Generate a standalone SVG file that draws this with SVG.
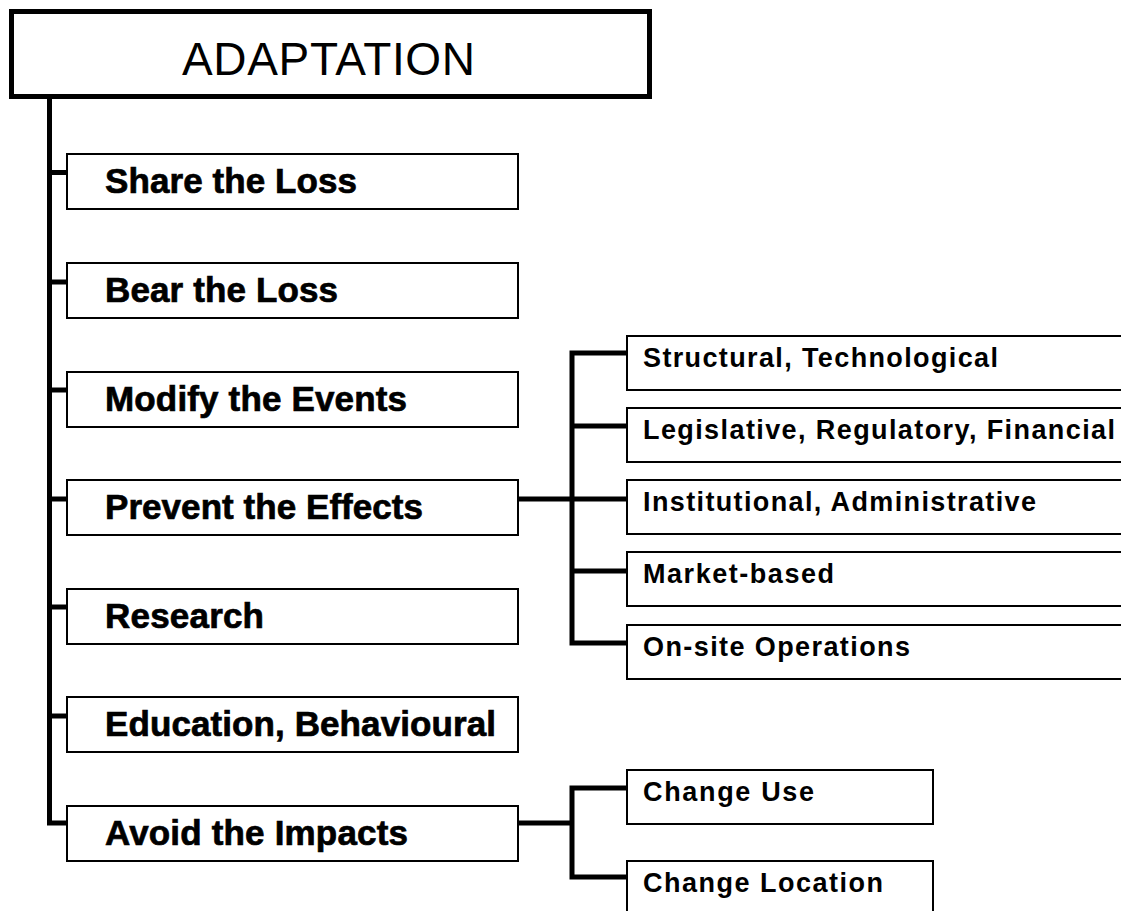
<svg xmlns="http://www.w3.org/2000/svg" width="1121" height="911" viewBox="0 0 1121 911">
<style>
.bg{fill:#fff}
.top{fill:#fff;stroke:#000;stroke-width:5}
.box{fill:#fff;stroke:#000;stroke-width:2}
.conn{fill:none;stroke:#000;stroke-width:5;stroke-linejoin:miter;stroke-linecap:butt}
.title{font-family:"Liberation Sans",Arial,sans-serif;font-size:46px;fill:#000}
.main{font-family:"Liberation Sans",Arial,sans-serif;font-size:35px;font-weight:bold;fill:#000;stroke:#000;stroke-width:0.7}
.sub{font-family:"Liberation Sans",Arial,sans-serif;font-size:27px;font-weight:bold;fill:#000}
</style>
<rect class="bg" x="0" y="0" width="1121" height="911"/>
<g id="connectors">
<path class="conn" d="M49.5 98 V823 H70"/>
<path class="conn" d="M49.5 172.5 H70"/>
<path class="conn" d="M49.5 282 H70"/>
<path class="conn" d="M49.5 390 H70"/>
<path class="conn" d="M49.5 499 H70"/>
<path class="conn" d="M49.5 607 H70"/>
<path class="conn" d="M49.5 716 H70"/>
<path class="conn" d="M516 499 H628"/>
<path class="conn" d="M628 353 H572 V643 H628"/>
<path class="conn" d="M572 426 H628"/>
<path class="conn" d="M572 571 H628"/>
<path class="conn" d="M516 823 H572"/>
<path class="conn" d="M628 788 H572 V877 H628"/>
</g>
<g id="adaptation">
<rect class="top" x="11.5" y="11.5" width="638" height="85"/>
<text class="title" x="182" y="75" textLength="293" lengthAdjust="spacing">ADAPTATION</text>
</g>
<g id="share">
<rect class="box" x="67" y="154" width="451" height="55"/>
<text class="main" x="105" y="193" textLength="252" lengthAdjust="spacing">Share the Loss</text>
</g>
<g id="bear">
<rect class="box" x="67" y="263" width="451" height="55"/>
<text class="main" x="105" y="302" textLength="233" lengthAdjust="spacing">Bear the Loss</text>
</g>
<g id="modify">
<rect class="box" x="67" y="372" width="451" height="55"/>
<text class="main" x="105" y="411" textLength="302" lengthAdjust="spacing">Modify the Events</text>
</g>
<g id="prevent">
<rect class="box" x="67" y="480" width="451" height="55"/>
<text class="main" x="105" y="519" textLength="318" lengthAdjust="spacing">Prevent the Effects</text>
</g>
<g id="research">
<rect class="box" x="67" y="589" width="451" height="55"/>
<text class="main" x="105" y="628" textLength="159" lengthAdjust="spacing">Research</text>
</g>
<g id="education">
<rect class="box" x="67" y="697" width="451" height="55"/>
<text class="main" x="105" y="736" textLength="391" lengthAdjust="spacing">Education, Behavioural</text>
</g>
<g id="avoid">
<rect class="box" x="67" y="806" width="451" height="55"/>
<text class="main" x="105" y="845" textLength="303" lengthAdjust="spacing">Avoid the Impacts</text>
</g>
<g id="structural">
<rect class="box" x="627" y="336" width="500" height="54"/>
<text class="sub" x="643" y="367" textLength="355" lengthAdjust="spacing">Structural, Technological</text>
</g>
<g id="legislative">
<rect class="box" x="627" y="408" width="500" height="54"/>
<text class="sub" x="643" y="439" textLength="472" lengthAdjust="spacing">Legislative, Regulatory, Financial</text>
</g>
<g id="institutional">
<rect class="box" x="627" y="480" width="500" height="54"/>
<text class="sub" x="643" y="511" textLength="393" lengthAdjust="spacing">Institutional, Administrative</text>
</g>
<g id="market">
<rect class="box" x="627" y="552" width="500" height="54"/>
<text class="sub" x="643" y="583" textLength="191" lengthAdjust="spacing">Market-based</text>
</g>
<g id="onsite">
<rect class="box" x="627" y="625" width="500" height="54"/>
<text class="sub" x="643" y="656" textLength="267" lengthAdjust="spacing">On-site Operations</text>
</g>
<g id="changeuse">
<rect class="box" x="627" y="770" width="306" height="54"/>
<text class="sub" x="643" y="801" textLength="171" lengthAdjust="spacing">Change Use</text>
</g>
<g id="changelocation">
<rect class="box" x="627" y="861" width="306" height="60"/>
<text class="sub" x="643" y="892" textLength="240" lengthAdjust="spacing">Change Location</text>
</g>
</svg>
